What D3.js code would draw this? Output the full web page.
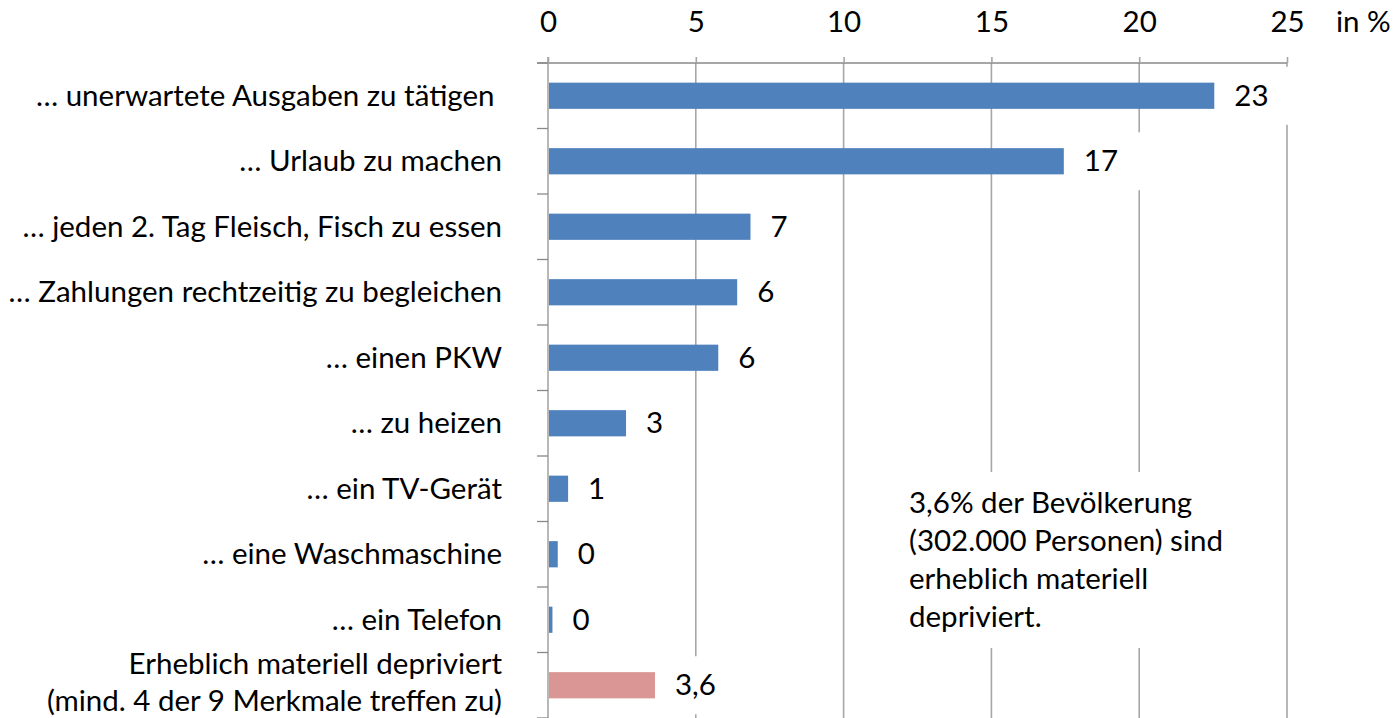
<!DOCTYPE html>
<html>
<head>
<meta charset="utf-8">
<script src="https://cdn.jsdelivr.net/npm/d3@7"></script>
<style>
  html, body { margin: 0; padding: 0; background: #fff; }
  svg { display: block; }
  text { font-family: Lato, "Open Sans", sans-serif; fill: #000; }
</style>
</head>
<body>
<svg id="chart" width="1398" height="718"></svg>
<script>
// ---- data ----
const categories = [
  ["… unerwartete Ausgaben zu tätigen\u00A0"],
  ["… Urlaub zu machen"],
  ["… jeden 2. Tag Fleisch, Fisch zu essen"],
  ["… Zahlungen rechtzeitig zu begleichen"],
  ["… einen PKW"],
  ["… zu heizen"],
  ["… ein TV-Gerät"],
  ["… eine Waschmaschine"],
  ["… ein Telefon"],
  ["Erheblich materiell depriviert", "(mind. 4 der 9 Merkmale treffen zu)"]
];
const values = [22.54, 17.45, 6.85, 6.4, 5.76, 2.64, 0.68, 0.33, 0.15, 3.62];
const valueLabels = ["23", "17", "7", "6", "6", "3", "1", "0", "0", "3,6"];
const highlight = [false, false, false, false, false, false, false, false, false, true];
const xTicks = [0, 5, 10, 15, 20, 25];
const unitLabel = "in %";
const noteLines = ["3,6% der Bevölkerung", "(302.000 Personen) sind", "erheblich materiell", "depriviert."];

// ---- layout ----
const FS = 29.5;
const svg = d3.select("#chart");
const x = d3.scaleLinear().domain([0, 25]).range([548, 1287]);
const keys = categories.map((c, i) => i);
const y = d3.scaleBand().domain(keys).range([63, 718]).paddingInner(0.6).paddingOuter(0.3);
const step = y.step();
const plotTop = y.range()[0];
const gridColor = "#A6A6A6";
const axisColor = "#898989";

// gridlines
svg.append("g").selectAll("line").data(xTicks.filter(t => t > 0)).join("line")
  .attr("x1", d => x(d)).attr("x2", d => x(d))
  .attr("y1", plotTop).attr("y2", 718)
  .attr("stroke", gridColor).attr("stroke-width", 1.6);

// top axis
const xAxis = d3.axisTop(x).tickValues(xTicks).tickSize(6).tickPadding(25).tickFormat(d3.format("d"));
const gx = svg.append("g").attr("transform", `translate(0,${plotTop})`).call(xAxis);
gx.select(".domain").attr("stroke", axisColor).attr("stroke-width", 1.5)
  .attr("d", `M${x(0) - 11},0H${x(25)}`);
gx.selectAll(".tick line").attr("stroke", gridColor).attr("stroke-width", 1.6);
gx.selectAll(".tick text").attr("font-size", FS).attr("font-family", "Lato, sans-serif").attr("fill", "#000");

svg.append("text").attr("x", 1336).attr("y", 32).attr("font-size", FS).text(unitLabel);

// left axis
svg.append("line").attr("x1", x(0)).attr("x2", x(0)).attr("y1", plotTop - 6).attr("y2", 718)
  .attr("stroke", gridColor).attr("stroke-width", 1.6);
svg.append("g").selectAll("line").data(d3.range(categories.length + 1)).join("line")
  .attr("x1", x(0) - 11).attr("x2", x(0))
  .attr("y1", d => plotTop + d * step).attr("y2", d => plotTop + d * step)
  .attr("stroke", axisColor).attr("stroke-width", 1.3);

// bars
svg.append("g").selectAll("rect").data(values).join("rect")
  .attr("x", x(0) + 1)
  .attr("y", (d, i) => y(i))
  .attr("width", d => x(d) - x(0) - 1)
  .attr("height", y.bandwidth())
  .attr("fill", (d, i) => highlight[i] ? "#D99694" : "#4F81BD");

// category labels
const cat = svg.append("g").selectAll("text").data(categories).join("text")
  .attr("text-anchor", "end").attr("font-size", FS).style("white-space", "pre");
cat.each(function (lines, i) {
  const cy = y(i) + y.bandwidth() / 2;
  const lh = 37;
  const off = lines.length > 1 ? FS * 0.25 : FS * 0.34;
  const first = cy - (lines.length - 1) * lh / 2 + off;
  d3.select(this).selectAll("tspan").data(lines).join("tspan")
    .attr("x", 502).attr("y", (l, j) => first + j * lh).text(l => l);
});

// value labels with white boxes
const vl = svg.append("g").selectAll("g").data(values).join("g");
vl.each(function (v, i) {
  const g = d3.select(this);
  const cy = y(i) + y.bandwidth() / 2;
  const tx = x(v) + 20;
  const t = g.append("text").attr("x", tx).attr("y", cy + FS * 0.34).attr("font-size", FS).text(valueLabels[i]);
  const w = t.node().getComputedTextLength();
  g.insert("rect", "text").attr("x", tx - 14).attr("y", cy - 29).attr("width", w + 40).attr("height", 58).attr("fill", "#fff");
});

// note box
const note = svg.append("g");
note.append("rect").attr("x", 895).attr("y", 472).attr("width", 345).attr("height", 176).attr("fill", "#fff");
note.append("text").attr("font-size", FS).selectAll("tspan").data(noteLines).join("tspan")
  .attr("x", 909).attr("y", (d, i) => 513 + i * 38).text(d => d);
</script>
</body>
</html>
